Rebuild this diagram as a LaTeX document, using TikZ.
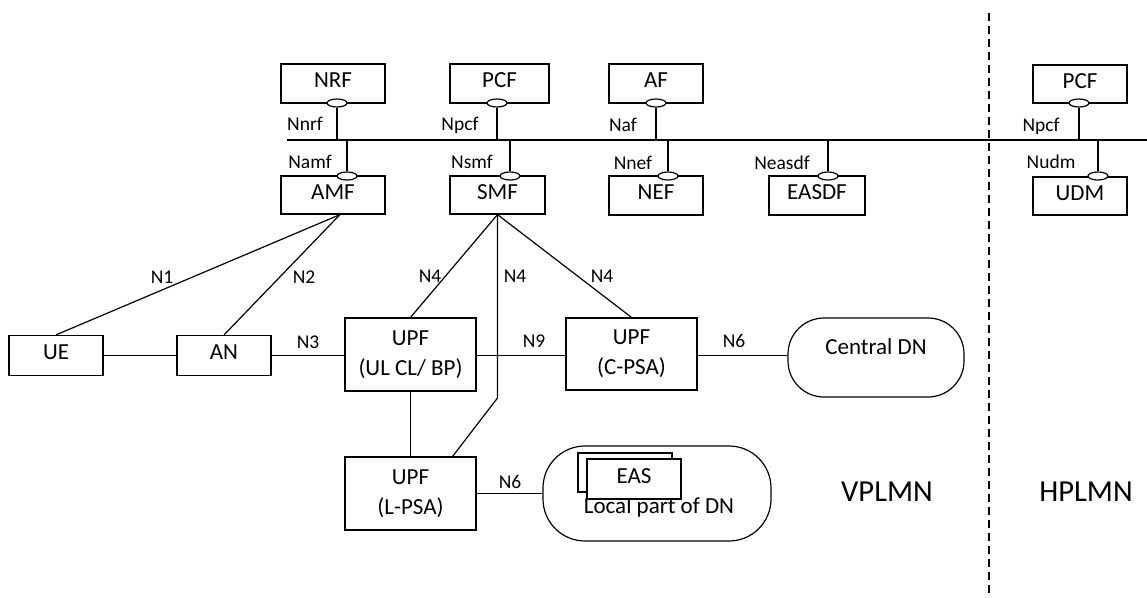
\documentclass[tikz,border=0pt]{standalone}
\usepackage{fontspec}
\setmainfont{Carlito}
\usetikzlibrary{shapes.geometric}
\tikzset{
  ln/.style={line width=1.2pt},
  nf/.style={draw, line width=1.2pt, fill=white, inner sep=0pt,
    font=\fontsize{23}{27}\selectfont, text height=14.5pt, text depth=6.5pt},
  upf/.style={draw, line width=1.2pt, fill=white, inner sep=0pt, align=center,
    font=\fontsize{23}{30}\selectfont, minimum width=131pt, minimum height=73pt},
  dn/.style={draw, line width=1.2pt, fill=white, inner sep=0pt, rounded corners=36pt,
    font=\fontsize{23}{27}\selectfont},
  port/.style={ellipse, draw, fill=white, line width=1.2pt, minimum width=20pt,
    minimum height=8pt, inner sep=0pt},
  lbl/.style={inner sep=0pt, font=\fontsize{19.5}{22}\selectfont},
  big/.style={inner sep=0pt, font=\fontsize{30.5}{34}\selectfont},
}
\begin{document}
\begin{tikzpicture}[x=1pt,y=-1pt]
\useasboundingbox (0,0) rectangle (1147,597);
% dashed border
\coordinate (dT) at (989,13);
\coordinate (dB) at (989,597);
\draw[ln, dash pattern=on 8pt off 5pt] (dT) -- (dB);
% bus
\coordinate (busL) at (287,140);
\coordinate (busR) at (1147,140);
\draw[ln] (busL) -- (busR);
% upper NFs
\node[nf, minimum width=104pt, minimum height=39pt] (nrf) at (333,83.5) {NRF};
\node[nf, minimum width=99pt, minimum height=39pt] (pcf) at (499.5,83.5) {PCF};
\node[nf, minimum width=94pt, minimum height=39pt] (af) at (656,83.5) {AF};
\node[nf, minimum width=94pt, minimum height=38pt] (pcfh) at (1080,84) {PCF};
% lower NFs
\node[nf, minimum width=104pt, minimum height=38pt] (amf) at (333,195) {AMF};
\node[nf, minimum width=95pt, minimum height=38pt] (smf) at (497.5,195) {SMF};
\node[nf, minimum width=94pt, minimum height=39pt] (nef) at (656,195.5) {NEF};
\node[nf, minimum width=96pt, minimum height=39pt] (easdf) at (817,195.5) {EASDF};
\node[nf, minimum width=94pt, minimum height=38pt] (udm) at (1080,196) {UDM};
% ports
\node[port] (nrfp) at (337,103) {};
\node[port] (pcfp) at (497,103) {};
\node[port] (afp) at (656,103) {};
\node[port] (pcfhp) at (1079,103) {};
\node[port] (amfp) at (347,176) {};
\node[port] (smfp) at (510,176) {};
\node[port] (nefp) at (668,176) {};
\node[port] (easdfp) at (828,176) {};
\node[port] (udmp) at (1098,176) {};
\foreach \p in {nrfp,pcfp,afp,pcfhp}{\draw[ln] (\p.south) -- (\p.south |- busL);}
\foreach \p in {amfp,smfp,nefp,easdfp,udmp}{\draw[ln] (\p.north) -- (\p.north |- busL);}
% service labels
\node[lbl, anchor=base] (lnrf) at (305,130) {Nnrf};
\node[lbl, anchor=base] (lpcf) at (460,130) {Npcf};
\node[lbl, anchor=base] (laf) at (623,131) {Naf};
\node[lbl, anchor=base] (lpcfh) at (1041,131) {Npcf};
\node[lbl, anchor=base] (lamf) at (310,168) {Namf};
\node[lbl, anchor=base] (lsmf) at (472,168) {Nsmf};
\node[lbl, anchor=base] (lnef) at (633,169) {Nnef};
\node[lbl, anchor=base] (leasdf) at (782,169) {Neasdf};
\node[lbl, anchor=base] (ludm) at (1051,168) {Nudm};
% access and user plane
\node[nf, minimum width=94pt, minimum height=40pt] (ue) at (56,355.5) {UE};
\node[nf, minimum width=94pt, minimum height=40pt] (an) at (224,355.5) {AN};
\node[upf] (upf1) at (410.5,354.5) {UPF\\(UL CL/ BP)};
\node[upf, minimum height=72pt] (upfc) at (631.5,354) {UPF\\(C-PSA)};
\node[upf] (lpsa) at (410.5,493.5) {UPF\\(L-PSA)};
\node[dn, minimum width=176pt, minimum height=79pt, text height=14.5pt, text depth=20pt] (cdn) at (876,357.5) {Central DN};
\node[dn, rounded corners=42pt, minimum width=228pt, minimum height=95pt] (ldn) at (657,493.5) {};
\node[lbl, anchor=base, font=\fontsize{23}{27}\selectfont] (ldntxt) at (659,513) {Local part of DN};
\node[nf, minimum width=94pt, minimum height=39pt] (easb) at (625,472.5) {};
\node[nf, minimum width=94pt, minimum height=40pt] (easf) at (634,479) {EAS};
% connectors
\coordinate (amfb) at ([xshift=7pt]amf.south);
\draw[ln] (amfb) -- (ue.north);
\draw[ln] (amfb) -- (an.north);
\draw[ln] (ue) -- (an);
\draw[ln] (an) -- (an -| upf1.west);
\coordinate (n9y) at (0,355.5);
\draw[ln] (upf1.east |- n9y) -- (upfc.west |- n9y);
\draw[ln] (upfc.east |- n9y) -- (cdn.west |- n9y);
\draw[ln] (smf.south) -- (upf1.north);
\draw[ln] (smf.south) -- (upfc.north);
\coordinate (bend) at (497,398);
\draw[ln] (smf.south) -- (smf.south |- bend) -- ([xshift=-24pt]lpsa.north east);
\draw[ln] (upf1.south) -- (lpsa.north);
\draw[ln] (lpsa.east) -- (lpsa.east -| ldn.west);
% interface labels
\node[lbl] (n1) at (162,277) {N1};
\node[lbl] (n2) at (304,277) {N2};
\node[lbl] (n3) at (308,342) {N3};
\node[lbl] (n4a) at (430,276) {N4};
\node[lbl] (n4b) at (515,276) {N4};
\node[lbl] (n4c) at (602,276) {N4};
\node[lbl] (n9) at (534,341.5) {N9};
\node[lbl] (n6a) at (734,341) {N6};
\node[lbl] (n6b) at (510,482) {N6};
% PLMN labels
\node[big] (vplmn) at (887,492) {VPLMN};
\node[big] (hplmn) at (1086,492) {HPLMN};
\end{tikzpicture}
\end{document}
